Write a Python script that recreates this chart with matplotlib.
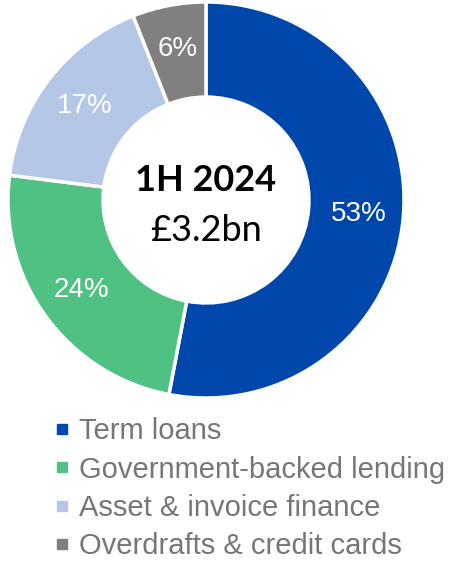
import matplotlib.pyplot as plt
from matplotlib.lines import Line2D

categories = ["Term loans", "Government-backed lending",
              "Asset & invoice finance", "Overdrafts & credit cards"]
shares = [53, 24, 17, 6]
colors = ["#0047AB", "#4FC283", "#B4C7E7", "#808080"]
title_line1 = "1H 2024"
title_line2 = "£3.2bn"

W, H = 449, 562
fig = plt.figure(figsize=(W / 100, H / 100), dpi=100)

# square axes holding the donut (centre ~ (206, 200) px, radius ~198 px)
cx, cy, r = 206, 200, 198
ax = fig.add_axes([(cx - r) / W, (H - cy - r) / H, 2 * r / W, 2 * r / H])

wedges, texts, autotexts = ax.pie(
    shares, colors=colors, startangle=90, counterclock=False,
    radius=1.0, autopct=lambda p: f"{p:.0f}%", pctdistance=0.775,
    wedgeprops=dict(width=0.48, edgecolor="white", linewidth=2.5),
    textprops=dict(color="white", fontsize=20, family="Liberation Sans"))
ax.set_aspect("equal")
ax.set_xlim(-1, 1)
ax.set_ylim(-1, 1)
ax.axis("off")

ax.text(0, 0.10, title_line1, ha="center", va="center", fontsize=26,
        fontweight="bold", family="Lato", color="black")
ax.text(0, -0.155, title_line2, ha="center", va="center", fontsize=26,
        family="Lato", color="black")

handles = [Line2D([], [], marker="s", linestyle="none", markersize=7,
                  markerfacecolor=c, markeredgecolor=c) for c in colors]
fig.legend(handles, categories, loc="upper left",
           bbox_to_anchor=(54 / W, 1 - 417 / H), frameon=False,
           prop=dict(family="Liberation Sans", size=21),
           labelcolor="#767676", handlelength=0.55, handletextpad=0.3,
           labelspacing=0.36, borderpad=0, borderaxespad=0)

fig.savefig("out.png", dpi=100)
